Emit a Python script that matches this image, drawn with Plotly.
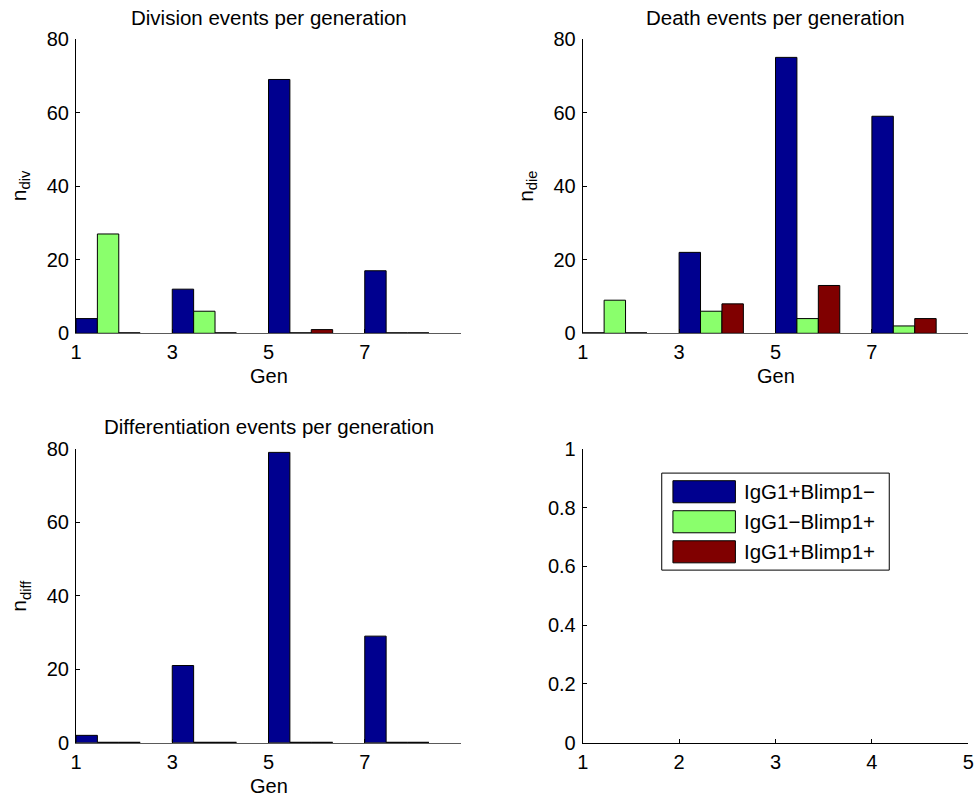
import plotly.graph_objects as go

# ---- data -------------------------------------------------------------
gens = [1, 3, 5, 7]
gen_labels = ["1", "3", "5", "7"]
series_names = ["IgG1+Blimp1\u2212", "IgG1\u2212Blimp1+", "IgG1+Blimp1+"]
series_colors = ["rgb(0,0,143)", "rgb(138,255,108)", "rgb(128,0,0)"]

div_blue = [4, 12, 69, 17]
div_green = [27, 6, 0, 0]
div_red = [0, 0, 1, 0]

die_blue = [0, 22, 75, 59]
die_green = [9, 6, 4, 2]
die_red = [0, 8, 13, 4]

diff_blue = [2, 21, 79, 29]
diff_green = [0, 0, 0, 0]
diff_red = [0, 0, 0, 0]

y_ticks = [0, 20, 40, 60, 80]
empty_x_ticks = [1, 2, 3, 4, 5]
empty_y_ticks = [0, 0.2, 0.4, 0.6, 0.8, 1]
empty_y_labels = ["0", "0.2", "0.4", "0.6", "0.8", "1"]

# ---- layout helpers ---------------------------------------------------
W, H = 979, 801
FONT = "Liberation Sans, Arial, Helvetica, sans-serif"


def px_x(a, b):
    return [a / W, b / W]


def px_y(top, bottom):
    return [1 - bottom / H, 1 - top / H]


LEFT = px_x(76, 461)
RIGHT = px_x(582.7, 968.3)
TOP = px_y(39, 333.3)
BOTTOM = px_y(448.7, 742.7)

bw = 4 / 9  # width of one bar; three bars fill 2/3 of the generation spacing

panels = [
    dict(ax="", title="Division events per generation", ylab="n<sub>div</sub>",
         data=[div_blue, div_green, div_red], x=LEFT, y=TOP),
    dict(ax="2", title="Death events per generation", ylab="n<sub>die</sub>",
         data=[die_blue, die_green, die_red], x=RIGHT, y=TOP),
    dict(ax="3", title="Differentiation events per generation", ylab="n<sub>diff</sub>",
         data=[diff_blue, diff_green, diff_red], x=LEFT, y=BOTTOM),
]

fig = go.Figure()

for p in panels:
    xa, ya = "x" + p["ax"], "y" + p["ax"]
    for k, vals in enumerate(p["data"]):
        fig.add_trace(go.Bar(
            x=gens, y=vals, width=bw, offset=k * bw,
            marker=dict(color=series_colors[k], line=dict(color="black", width=1)),
            name=series_names[k], showlegend=False,
            xaxis=xa, yaxis=ya,
        ))
        # zero-height bars still show their outline as a flat black edge
        zx, zy = [], []
        for g, v in zip(gens, vals):
            if v == 0:
                zx += [g + k * bw, g + (k + 1) * bw, None]
                zy += [0, 0, None]
        if zx:
            fig.add_trace(go.Scatter(
                x=zx, y=zy, mode="lines", line=dict(color="black", width=2),
                showlegend=False, hoverinfo="skip", xaxis=xa, yaxis=ya,
            ))

# empty trace so the fourth (legend) axes are created
fig.add_trace(go.Scatter(x=[], y=[], mode="markers", showlegend=False,
                         hoverinfo="skip", xaxis="x4", yaxis="y4"))

axis_common = dict(
    showline=True, linecolor="black", linewidth=1,
    ticks="inside", ticklen=4, tickwidth=1, tickcolor="black",
    showgrid=False, zeroline=False, fixedrange=True, automargin=False,
    tickfont=dict(family=FONT, size=20, color="black"),
)

layout = dict(
    width=W, height=H,
    margin=dict(l=0, r=0, t=0, b=0, pad=0, autoexpand=False),
    paper_bgcolor="white", plot_bgcolor="white",
    barmode="overlay", showlegend=False,
    font=dict(family=FONT, size=20, color="black"),
)

annotations = []
for p in panels:
    sfx = p["ax"]
    layout["xaxis" + sfx] = dict(
        axis_common, domain=p["x"], anchor="y" + sfx, range=[1, 9],
        tickmode="array", tickvals=gens, ticktext=gen_labels,
        linecolor="rgb(90,90,90)", ticklabelstandoff=1,
    )
    layout["yaxis" + sfx] = dict(
        axis_common, domain=p["y"], anchor="x" + sfx, range=[0, 80],
        tickmode="array", tickvals=y_ticks, ticklabelstandoff=2,
    )
    cx = (p["x"][0] + p["x"][1]) / 2
    top_px = (1 - p["y"][1]) * H
    bot_px = (1 - p["y"][0]) * H
    annotations.append(dict(
        text=p["title"], x=cx, y=1 - (top_px - 22) / H, xref="paper", yref="paper",
        xanchor="center", yanchor="middle", showarrow=False,
        font=dict(family=FONT, size=20.5, color="black"),
    ))
    annotations.append(dict(
        text="Gen", x=cx, y=1 - (bot_px + 43) / H, xref="paper", yref="paper",
        xanchor="center", yanchor="middle", showarrow=False,
        font=dict(family=FONT, size=20, color="black"),
    ))
    annotations.append(dict(
        text=p["ylab"], x=(p["x"][0] * W - 56) / W, y=(p["y"][0] + p["y"][1]) / 2,
        xref="paper", yref="paper", textangle=-90,
        xanchor="center", yanchor="middle", showarrow=False,
        font=dict(family=FONT, size=21, color="black"),
    ))

# empty fourth axes holding the legend
layout["xaxis4"] = dict(
    axis_common, domain=RIGHT, anchor="y4", range=[1, 5],
    tickmode="array", tickvals=empty_x_ticks, ticklabelstandoff=1,
)
layout["yaxis4"] = dict(
    axis_common, domain=BOTTOM, anchor="x4", range=[0, 1],
    tickmode="array", tickvals=empty_y_ticks, ticktext=empty_y_labels,
    ticklabelstandoff=2,
)

shapes = [dict(
    type="rect", xref="x4 domain", yref="y4 domain",
    x0=0.205, x1=0.795, y0=0.587, y1=0.917,
    line=dict(color="black", width=1), fillcolor="white", layer="above",
)]
row_y = [0.8536, 0.7515, 0.6493]
for k, name in enumerate(series_names):
    shapes.append(dict(
        type="rect", xref="x4 domain", yref="y4 domain",
        x0=0.234, x1=0.396, y0=row_y[k] - 0.0375, y1=row_y[k] + 0.0375,
        line=dict(color="black", width=1), fillcolor=series_colors[k], layer="above",
    ))
    annotations.append(dict(
        text=name, x=0.413, y=row_y[k], xref="x4 domain", yref="y4 domain",
        xanchor="left", yanchor="middle", showarrow=False,
        font=dict(family=FONT, size=20.5, color="black"),
    ))

layout["shapes"] = shapes
layout["annotations"] = annotations
fig.update_layout(**layout)
fig.write_html("out.html", post_script="document.body.style.margin='0';")
